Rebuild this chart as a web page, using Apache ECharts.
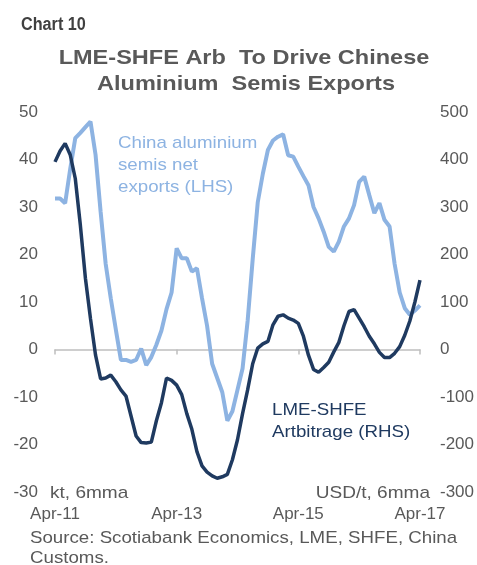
<!DOCTYPE html>
<html>
<head>
<meta charset="utf-8">
<script src="https://cdn.jsdelivr.net/npm/echarts@6.0.0/dist/echarts.min.js"></script>
<style>
  html, body { margin: 0; padding: 0; background: #fff; }
  #chart { width: 477px; height: 565px; }
</style>
</head>
<body>
<div id="chart"></div>
<script>
// monthly categories Apr-11 .. Apr-17
const monthNames = ['Jan', 'Feb', 'Mar', 'Apr', 'May', 'Jun', 'Jul', 'Aug', 'Sep', 'Oct', 'Nov', 'Dec'];
const months = [];
for (let i = 0; i < 73; i++) {
  const m = (3 + i) % 12;
  const y = 11 + Math.floor((3 + i) / 12);
  months.push(monthNames[m] + '-' + y);
}

// China aluminium semis net exports, kt 6mma (LHS)
const semisExports = [
  31.8, 31.8, 30.8, 38, 44.5, 45.6, 46.8, 48, 41, 29,
  18, 10.8, 4.2, -2.2, -2.2, -2.6, -2.2, 0.2, -3.3, -1.6,
  1, 4, 8.5, 12, 21.3, 19.2, 19.2, 16.4, 17.1, 10.8,
  5, -3, -6, -9, -15, -13, -8.5, -4, 6, 19,
  31, 37, 42, 44, 44.8, 45.3, 40.9, 40.6, 38.5, 36.5,
  34.6, 30, 27.6, 24.8, 21.6, 20.6, 22.7, 25.9, 27.6, 30.4,
  35.3, 36.4, 32.5, 28.7, 30.8, 27.3, 25.9, 18, 12, 8.7,
  7.3, 8.2, 9.3
];

// LME-SHFE arbitrage, USD/t 6mma (RHS)
const arbitrage = [
  395, 418, 434, 410, 360, 262, 150, 65, -12, -62,
  -60, -54, -68, -85, -98, -140, -182, -196, -197, -195,
  -150, -112, -60, -65, -75, -95, -135, -168, -215, -245,
  -258, -266, -271, -268, -263, -232, -190, -135, -85, -30,
  3, 12, 17, 52, 70, 73, 66, 62, 55, 28,
  -12, -42, -48, -38, -27, -5, 15, 50, 80, 84,
  66, 48, 28, 12, -6, -17, -17, -8, 6, 30,
  60, 100, 146
];

const lightBlue = '#8DB3E2';
const navy = '#1F3A60';
const grey = '#595959';
const baseFont = '"Liberation Sans", Arial, sans-serif';

function label(text, x, y, opts) {
  return {
    type: 'text',
    x: x,
    y: y,
    scaleX: opts.scaleX || 1.1,
    silent: true,
    style: {
      text: text,
      font: opts.font || ('17px ' + baseFont),
      fill: opts.color || grey,
      align: opts.align || 'left',
      textAlign: opts.align || 'left',
      verticalAlign: 'middle',
      textVerticalAlign: 'middle'
    }
  };
}

const chart = echarts.init(document.getElementById('chart'));

const option = {
  animation: false,
  backgroundColor: '#fff',
  grid: { left: 55, right: 57, top: 112, bottom: 73 },
  xAxis: [
    {
      type: 'category',
      data: months,
      boundaryGap: false,
      axisLine: { onZero: true, lineStyle: { color: '#BFBFBF', width: 1.5 } },
      axisTick: { show: true, interval: 23, length: 5, lineStyle: { color: '#BFBFBF', width: 1.5 } },
      axisLabel: { show: false },
      splitLine: { show: false }
    },
    {
      type: 'category',
      data: months,
      boundaryGap: false,
      position: 'bottom',
      axisLine: { show: false, onZero: false },
      axisTick: { show: false },
      axisLabel: {
        interval: 23,
        margin: 14,
        hideOverlap: false,
        color: grey,
        fontSize: 17,
        fontFamily: baseFont
      },
      splitLine: { show: false }
    }
  ],
  yAxis: [
    {
      type: 'value',
      min: -30,
      max: 50,
      interval: 10,
      axisLine: { show: false },
      axisTick: { show: false },
      splitLine: { show: false },
      axisLabel: { color: grey, fontSize: 17, fontFamily: baseFont, margin: 17 }
    },
    {
      type: 'value',
      min: -300,
      max: 500,
      interval: 100,
      position: 'right',
      axisLine: { show: false },
      axisTick: { show: false },
      splitLine: { show: false },
      axisLabel: { color: grey, fontSize: 17, fontFamily: baseFont, margin: 20 }
    }
  ],
  series: [
    {
      name: 'China aluminium semis net exports (LHS)',
      type: 'line',
      yAxisIndex: 0,
      data: semisExports,
      symbol: 'none',
      lineStyle: { color: lightBlue, width: 4 },
      itemStyle: { color: lightBlue }
    },
    {
      name: 'LME-SHFE Artbitrage (RHS)',
      type: 'line',
      yAxisIndex: 1,
      data: arbitrage,
      symbol: 'none',
      lineStyle: { color: navy, width: 3.5 },
      itemStyle: { color: navy }
    }
  ],
  graphic: [
    label('Chart 10', 21, 25, { font: 'bold 18px ' + baseFont, color: '#404040', scaleX: 0.9 }),
    label('LME-SHFE Arb  To Drive Chinese', 244, 58, { font: 'bold 21px ' + baseFont, align: 'center', scaleX: 1.12 }),
    label('Aluminium  Semis Exports', 246, 84, { font: 'bold 21px ' + baseFont, align: 'center', scaleX: 1.12 }),
    label('China aluminium', 118, 143, { color: lightBlue }),
    label('semis net', 118, 165, { color: lightBlue }),
    label('exports (LHS)', 118, 187, { color: lightBlue }),
    label('LME-SHFE', 272, 410, { color: navy }),
    label('Artbitrage (RHS)', 272, 432, { color: navy }),
    label('kt, 6mma', 50, 493, { scaleX: 1.12 }),
    label('USD/t, 6mma', 430, 493, { align: 'right', scaleX: 1.12 }),
    label('Source: Scotiabank Economics, LME, SHFE, China', 30, 538, { scaleX: 1.1 }),
    label('Customs.', 30, 558, { scaleX: 1.1 })
  ]
};

chart.setOption(option);
</script>
</body>
</html>
